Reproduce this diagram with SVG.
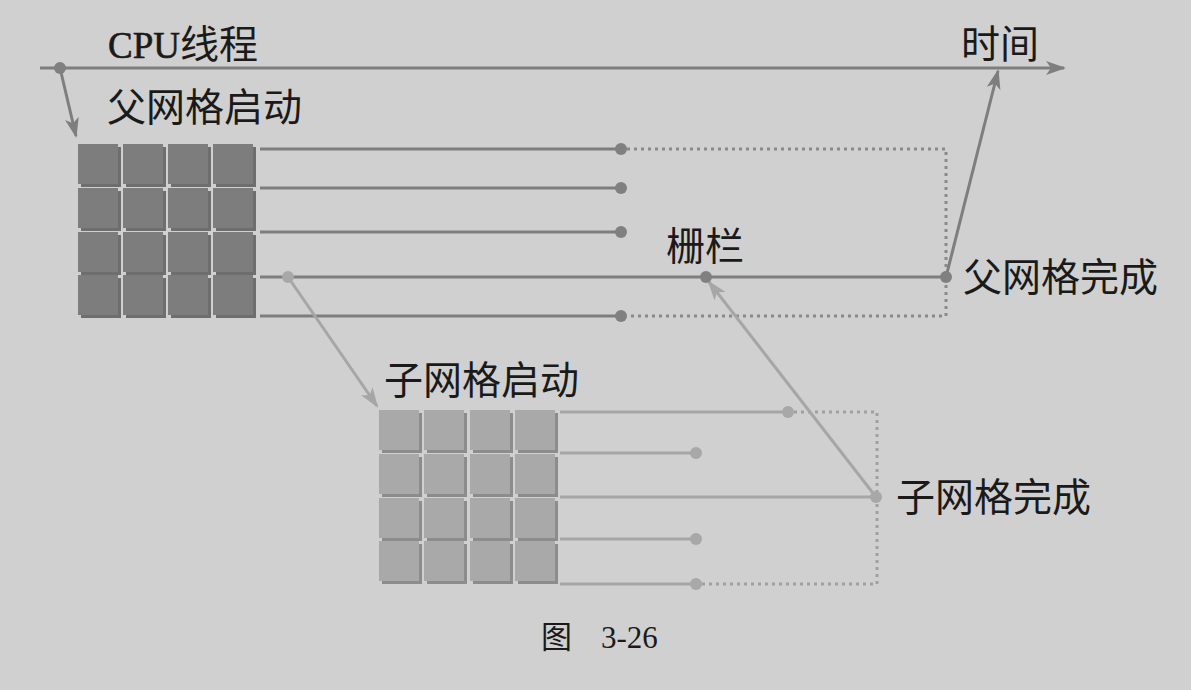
<svg xmlns="http://www.w3.org/2000/svg" width="1191" height="690" viewBox="0 0 1191 690">
<defs>
<style>
.t{font-family:"Liberation Serif","Noto Sans CJK SC",serif;fill:#1a1a1a;font-size:39px}
.cap{font-family:"Liberation Serif","Noto Sans CJK SC",serif;fill:#1a1a1a;font-size:31px}
.pl{stroke:#7e7e7e;stroke-width:3;fill:none}
.cl{stroke:#a6a6a6;stroke-width:3;fill:none}
.pd{fill:#808080}
.cd{fill:#a8a8a8}
.dot1{stroke:#8a8a8a;stroke-width:3;fill:none;stroke-dasharray:3 4}
.dot2{stroke:#a0a0a0;stroke-width:3;fill:none;stroke-dasharray:3 4}
.ps{fill:#6e6e6e}
.pm{fill:#7d7d7d}
.cs{fill:#8c8c8c}
.cm{fill:#a9a9a9}
</style>
<marker id="ad" viewBox="0 0 20 14" refX="18" refY="7" markerWidth="20" markerHeight="14" markerUnits="userSpaceOnUse" orient="auto"><path d="M0,0 L20,7 L0,14 L5,7 Z" fill="#7e7e7e"/></marker>
<marker id="al" viewBox="0 0 20 14" refX="18" refY="7" markerWidth="20" markerHeight="14" markerUnits="userSpaceOnUse" orient="auto"><path d="M0,0 L20,7 L0,14 L5,7 Z" fill="#a6a6a6"/></marker>
<g id="psq"><rect class="ps" x="3" y="3" width="40" height="40"/><rect class="pm" x="0" y="0" width="40" height="40"/></g>
<g id="csq"><rect class="cs" x="3" y="3" width="40" height="40"/><rect class="cm" x="0" y="0" width="40" height="40"/></g>
</defs>
<rect width="1191" height="690" fill="#d0d0d0"/>

<g id="connectors">
<line class="pl" x1="40" y1="68" x2="1064" y2="68" marker-end="url(#ad)"/>
<line class="pl" x1="60" y1="68" x2="76" y2="136" marker-end="url(#ad)"/>
<line class="pl" x1="260" y1="149" x2="621" y2="149"/>
<line class="pl" x1="260" y1="188" x2="621" y2="188"/>
<line class="pl" x1="260" y1="232" x2="621" y2="232"/>
<line class="pl" x1="260" y1="277" x2="946" y2="277"/>
<line class="pl" x1="260" y1="316" x2="621" y2="316"/>
<polyline class="dot1" points="627,149 946,149 946,316 627,316"/>
<line class="pl" x1="946" y1="277" x2="998" y2="71" marker-end="url(#ad)"/>
<line class="cl" x1="288" y1="277" x2="377" y2="406" marker-end="url(#al)"/>
<line class="cl" x1="560" y1="412" x2="788" y2="412"/>
<line class="cl" x1="560" y1="453" x2="696" y2="453"/>
<line class="cl" x1="560" y1="497" x2="876" y2="497"/>
<line class="cl" x1="560" y1="539" x2="696" y2="539"/>
<line class="cl" x1="560" y1="584" x2="696" y2="584"/>
<polyline class="dot2" points="794,412 877,412 877,584 702,584"/>
<line class="cl" x1="876" y1="497" x2="709" y2="282" marker-end="url(#al)"/>
<circle class="pd" cx="60" cy="68" r="6"/>
<circle class="pd" cx="621" cy="149" r="6"/>
<circle class="pd" cx="621" cy="188" r="6"/>
<circle class="pd" cx="621" cy="232" r="6"/>
<circle class="pd" cx="621" cy="316" r="6"/>
<circle class="pd" cx="706" cy="277" r="6"/>
<circle class="pd" cx="946" cy="277" r="6"/>
<circle class="cd" cx="288" cy="277" r="6"/>
<circle class="cd" cx="788" cy="412" r="6"/>
<circle class="cd" cx="696" cy="453" r="6"/>
<circle class="cd" cx="876" cy="497" r="6"/>
<circle class="cd" cx="696" cy="539" r="6"/>
<circle class="cd" cx="696" cy="584" r="6"/>
</g>

<g id="timeline-labels">
<text class="t" x="108" y="58"><tspan font-size="37" stroke="#1a1a1a" stroke-width="0.6">CPU</tspan>线程</text>
<text class="t" x="961" y="58">时间</text>
</g>

<g id="parent-grid">
<text class="t" x="107" y="121">父网格启动</text>
<use href="#psq" x="78" y="144"/><use href="#psq" x="123" y="144"/><use href="#psq" x="168" y="144"/><use href="#psq" x="213" y="144"/>
<use href="#psq" x="78" y="188"/><use href="#psq" x="123" y="188"/><use href="#psq" x="168" y="188"/><use href="#psq" x="213" y="188"/>
<use href="#psq" x="78" y="232"/><use href="#psq" x="123" y="232"/><use href="#psq" x="168" y="232"/><use href="#psq" x="213" y="232"/>
<use href="#psq" x="78" y="275"/><use href="#psq" x="123" y="275"/><use href="#psq" x="168" y="275"/><use href="#psq" x="213" y="275"/>
</g>

<g id="barrier"><text class="t" x="666" y="260">栅栏</text></g>
<g id="parent-done"><text class="t" x="963" y="291">父网格完成</text></g>

<g id="child-grid">
<text class="t" x="384" y="394">子网格启动</text>
<use href="#csq" x="379" y="410"/><use href="#csq" x="424" y="410"/><use href="#csq" x="470" y="410"/><use href="#csq" x="515" y="410"/>
<use href="#csq" x="379" y="454"/><use href="#csq" x="424" y="454"/><use href="#csq" x="470" y="454"/><use href="#csq" x="515" y="454"/>
<use href="#csq" x="379" y="498"/><use href="#csq" x="424" y="498"/><use href="#csq" x="470" y="498"/><use href="#csq" x="515" y="498"/>
<use href="#csq" x="379" y="541"/><use href="#csq" x="424" y="541"/><use href="#csq" x="470" y="541"/><use href="#csq" x="515" y="541"/>
</g>

<g id="child-done"><text class="t" x="896" y="511">子网格完成</text></g>

<g id="caption"><text class="cap" x="541" y="648">图</text><text class="cap" x="601" y="648">3-26</text></g>
</svg>
